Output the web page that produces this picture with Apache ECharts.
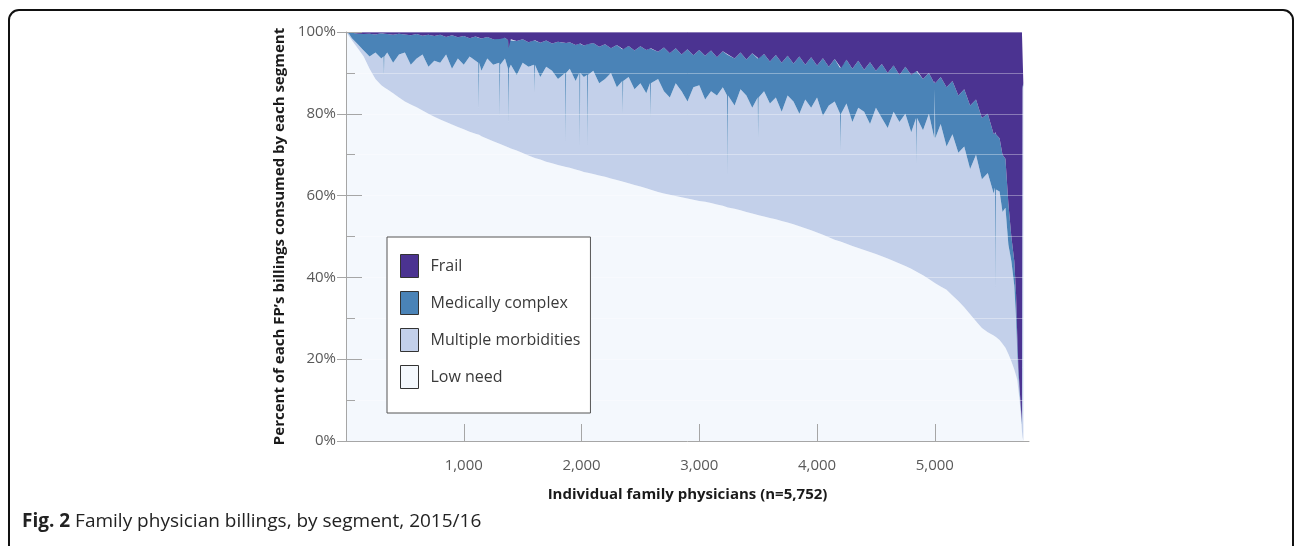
<!DOCTYPE html>
<html><head><meta charset="utf-8">
<script src="https://cdn.jsdelivr.net/npm/echarts@6/dist/echarts.min.js"></script>
<style>html,body{margin:0;padding:0;background:#fff}#c{width:1295px;height:546px}</style>
</head><body><div id="c"></div>
<script>
// Physicians ranked by low-need share (x), share of each FP's billings per segment (%)
const physicianRank = [
  0,25,50,100,150,200,250,300,318,322,
  326,350,400,450,500,550,600,650,700,750,
  800,850,900,950,1000,1050,1100,1123,1127,1131,
  1150,1200,1250,1301,1305,1309,1350,1376,1380,1384,
  1400,1450,1500,1550,1596,1600,1604,1650,1700,1750,
  1800,1861,1865,1869,1900,1950,1981,1985,1989,2020,
  2046,2050,2054,2100,2150,2200,2250,2300,2346,2350,
  2354,2400,2450,2500,2550,2581,2585,2589,2650,2700,
  2750,2800,2850,2900,2950,3000,3050,3100,3150,3200,
  3236,3240,3244,3300,3350,3400,3450,3496,3500,3504,
  3550,3600,3650,3700,3750,3800,3850,3900,3950,4000,
  4050,4100,4150,4196,4200,4204,4250,4300,4350,4400,
  4450,4500,4550,4600,4650,4700,4750,4800,4841,4845,
  4849,4900,4950,4996,5000,5004,5050,5100,5150,5200,
  5250,5300,5350,5400,5450,5500,5511,5515,5519,5550,
  5575,5600,5625,5650,5675,5690,5700,5710,5720,5730,
  5740,5745,5752];
const lowNeed = [
  100,99,98,96,94,91,88.5,87,86.6,86.5,
  86.4,86,85,84,83,82.3,81.6,80.8,80,79.3,
  78.6,78,77.4,76.8,76.2,75.6,75.1,75.0,74.9,74.9,
  74.5,73.9,73.3,72.7,72.7,72.6,72.1,71.8,71.7,71.7,
  71.5,71,70.4,69.8,69.3,69.3,69.2,68.8,68.3,67.9,
  67.5,67.0,67.0,67.0,66.8,66.4,66.1,66.1,66.1,65.8,
  65.7,65.7,65.6,65.3,64.9,64.6,64.2,63.8,63.4,63.4,
  63.4,63,62.6,62.2,61.8,61.5,61.5,61.4,60.9,60.5,
  60.2,59.9,59.6,59.3,59,58.7,58.5,58.2,57.8,57.5,
  57.2,57.2,57.1,56.8,56.4,56,55.6,55.2,55.2,55.2,
  54.9,54.5,54.2,53.8,53.4,53,52.5,52,51.5,51,
  50.4,49.8,49.2,48.7,48.7,48.7,48.2,47.7,47.2,46.7,
  46.2,45.7,45.2,44.6,44,43.4,42.8,42.1,41.4,41.4,
  41.3,40.5,39.6,38.8,38.7,38.6,37.8,37,35.6,34.2,
  32.7,31,29.3,27.6,26.6,25.8,25.6,25.5,25.4,24.7,
  23.8,22.8,21.3,19.5,17.5,16,15,12.5,10,6.5,
  2.5,1,0];
const multipleMorbidities = [
  0,0.6,0.5,1,1.5,3,6.5,6.5,7.4,3,
  7.6,9,7.5,10.5,12,9.7,11.9,13.7,11.5,13.7,
  13.9,16.5,13.6,16.7,15.8,18.4,17.9,17.5,6.1,17.6,
  16,19.6,18.7,19.8,6.3,19.4,21.4,19.2,5.8,19.3,
  20.5,18.5,22.1,21.7,22.7,15.7,22.8,20.2,23.2,22.6,
  21,23,6,23,24.2,21.6,23.9,5.9,23.9,23.2,
  23.8,6.3,23.9,25.2,22.6,23.9,25.8,22.7,24.6,16.6,
  24.6,26,23.4,25.3,23.2,26,17.5,26.1,27.6,25,
  23.8,27.6,25.9,23.7,27.5,28.3,25,27.3,26.7,29,
  27.3,7.8,27.4,25.2,29.6,28.5,25.9,28.8,18.8,28.8,
  30.6,28,29.8,26.7,31.1,30,27.5,31.5,30,33,
  29.1,32.2,33.8,31.3,22.3,31.3,34.3,30.3,34.3,33.8,
  31.3,35.8,33.8,31.9,36.5,34.6,37.2,33.4,37.6,26.6,
  37.7,35.5,40.4,35.2,47.3,35.4,39.7,35,39.4,36.3,
  39.3,35.5,40.7,36.4,38.9,34.7,36.4,12,36.1,36.3,
  32.2,34.2,26.7,24.5,20.5,14,7,3.5,2,1.5,
  1.5,85,87];
const medicallyComplex = [
  0,0.4,1.3,2.6,4,5.6,4.4,6.2,5.6,10.1,
  5.6,4.5,6.8,5.1,4.4,7.2,6,4.6,7.8,6,
  6.8,4.3,8.2,5.2,7,4.5,5.9,6.1,17.6,6.1,
  7.9,5.3,6.2,6,19.5,6.3,5.1,7,18.5,7,
  6.2,8.3,5.7,6,6,13,6,8.4,6.4,6.7,
  9.1,7.3,24.3,7.3,6.5,8.8,7.2,25.2,7.2,7.7,
  7.5,25,7.5,6.8,8.9,8.5,6,10.3,7.8,15.8,
  7.8,7.6,9.5,9,10.6,8.5,17,8.5,6.7,10.7,
  10.8,8.5,9,12.8,7.8,8.6,10.7,10,9.3,8.8,
  10,29.5,10,11.5,9,8.8,13.3,9.5,19.5,9.5,
  9.1,10.3,10.4,12,9.7,9.3,14,8.5,12.3,7.8,
  14.1,9.5,10.4,11.2,20.2,11.2,10.7,13,11.5,10.3,
  15.1,9,13.2,13.5,11.3,11.5,11.5,14,11.5,22.5,
  11.5,12.5,10,13.5,2,13.5,11.5,14.5,13,14,
  14,15.5,13.5,15,14.5,14.5,13.5,38,13.5,13,
  14,12,10,6,6,6,4,2,1,0.5,
  0.5,0.5,0.5];
const frail = [
  0,0,0.2,0.4,0.5,0.4,0.6,0.3,0.4,0.4,
  0.4,0.5,0.7,0.4,0.6,0.8,0.5,0.9,0.7,1,
  0.7,1.2,0.8,1.3,1,1.5,1.1,1.4,1.4,1.4,
  1.6,1.2,1.8,1.5,1.5,1.7,1.4,2,4,2,
  1.8,2.2,1.8,2.5,2,2,2,2.6,2.1,2.8,
  2.4,2.7,2.7,2.7,2.5,3.2,2.8,2.8,2.8,3.3,
  3,3,3,2.7,3.6,3,4,3.2,4.2,4.2,
  4.2,3.4,4.5,3.5,4.4,4,4,4,4.8,3.8,
  5.2,4,5.5,4.2,5.7,4.4,5.8,4.5,6.2,4.7,
  5.5,5.5,5.5,6.5,5,6.7,5.2,6.5,6.5,6.5,
  5.4,7.2,5.6,7.5,5.8,7.7,6,8,6.2,8.2,
  6.4,8.5,6.6,8.8,8.8,8.8,6.8,9,7,9.2,
  7.4,9.5,7.8,10,8.2,10.5,8.5,10.5,9.5,9.5,
  9.5,11.5,10,12.5,12,12.5,11,13.5,12,15.5,
  14,18,16.5,21,20,25,24.5,24.5,25,26,
  30,31,42,50,56,64,74,82,87,91.5,
  95.5,13.5,12.5];

const segmentNames = ['Low need', 'Multiple morbidities', 'Medically complex', 'Frail'];
const segmentValues = [lowNeed, multipleMorbidities, medicallyComplex, frail];
const segmentColors = ['#f4f8fd', '#c3d0ea', '#4a83b7', '#4b3391'];
const legendOrder = ['Frail', 'Medically complex', 'Multiple morbidities', 'Low need'];
const xTickValues = [1000, 2000, 3000, 4000, 5000];

const FONT = '"Open Sans", "Noto Sans", sans-serif';
const chart = echarts.init(document.getElementById('c'), null, {renderer: 'canvas'});

// data items are [share, rank] so that the stacked dimension is the share (y)
const series = segmentNames.map((name, s) => ({
  name: name,
  type: 'line',
  stack: 'billings',
  encode: {x: 1, y: 0},
  data: physicianRank.map((x, i) => [segmentValues[s][i], x]),
  showSymbol: false,
  symbol: 'none',
  lineStyle: {width: 0},
  areaStyle: {color: segmentColors[s], opacity: 1},
  itemStyle: {color: segmentColors[s]},
  emphasis: {disabled: true},
  silent: true,
  z: 2
}));

chart.setOption({
  animation: false,
  backgroundColor: '#ffffff',
  grid: {left: 346, right: 266, top: 32, bottom: 105},
  legend: {
    data: legendOrder,
    orient: 'vertical',
    left: 387, top: 237,
    itemWidth: 18, itemHeight: 23, itemGap: 13,
    padding: [17, 10, 24, 13],
    backgroundColor: '#ffffff',
    borderColor: '#555555', borderWidth: 1,
    icon: 'rect',
    itemStyle: {borderColor: '#333333', borderWidth: 1},
    textStyle: {fontFamily: FONT, fontSize: 16, color: '#3a3a3a', padding: [0, 0, 0, 7]},
    selectedMode: false,
    z: 6
  },
  xAxis: {
    type: 'value', min: 0, max: 5800,
    name: 'Individual family physicians (n=5,752)',
    nameLocation: 'middle', nameGap: 46,
    nameTextStyle: {fontFamily: FONT, fontSize: 15, fontWeight: 'bold', color: '#1a1a1a'},
    axisLine: {show: true, lineStyle: {color: '#a6a6a6', width: 1}},
    axisTick: {show: true, inside: true, length: 17, lineStyle: {color: '#a6a6a6'}, customValues: xTickValues},
    axisLabel: {customValues: xTickValues, margin: 17, fontFamily: FONT, fontSize: 15, color: '#595959',
      formatter: v => v.toLocaleString('en-US')},
    splitLine: {show: false},
    z: 4
  },
  yAxis: [{
    type: 'value', min: 0, max: 100, interval: 20,
    name: 'Percent of each FP\u2019s billings consumed by each segment',
    nameLocation: 'middle', nameGap: 51,
    nameTextStyle: {fontFamily: FONT, fontSize: 15, fontWeight: 'bold', color: '#1a1a1a'},
    axisLine: {show: true, lineStyle: {color: '#a6a6a6', width: 1}},
    axisTick: {show: true, inside: true, length: 16, lineStyle: {color: '#a6a6a6'}},
    minorTick: {show: true, splitNumber: 2, length: 9, lineStyle: {color: '#a6a6a6'}},
    axisLabel: {formatter: '{value}%', margin: 10, fontFamily: FONT, fontSize: 15, color: '#595959'},
    splitLine: {show: true, lineStyle: {color: 'rgba(255,255,255,0.35)', width: 1}},
    minorSplitLine: {show: true, lineStyle: {color: 'rgba(255,255,255,0.35)', width: 1}},
    z: 4
  }, {
    type: 'value', min: 0, max: 100, interval: 20, position: 'left',
    axisLine: {show: false},
    axisTick: {show: true, inside: false, length: 9, lineStyle: {color: '#a6a6a6'}},
    axisLabel: {show: false},
    splitLine: {show: false},
    z: 4
  }],
  graphic: [
    {type: 'rect', silent: true, z: 0,
      shape: {x: 9, y: 10, width: 1284, height: 620, r: 10},
      style: {fill: 'none', stroke: '#111111', lineWidth: 2}},
    {type: 'text', left: 22, top: 512, silent: true, z: 10,
      style: {
        text: '{b|Fig. 2} Family physician billings, by segment, 2015/16',
        fontFamily: FONT, fontSize: 19, fill: '#222222',
        rich: {b: {fontFamily: FONT, fontSize: 19, fontWeight: 'bold', fill: '#222222'}}
      }}
  ],
  series: series
});
</script></body></html>
